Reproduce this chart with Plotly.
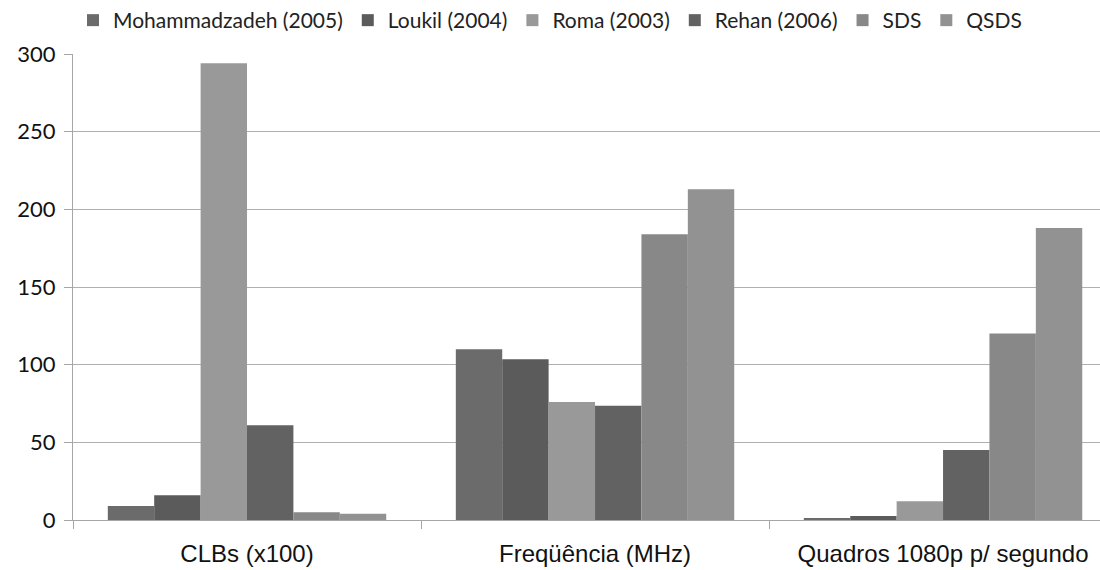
import plotly.graph_objects as go

categories = ["CLBs (x100)", "Freqüência (MHz)", "Quadros 1080p p/ segundo"]

series_names = ["Mohammadzadeh (2005)", "Loukil (2004)", "Roma (2003)",
                "Rehan (2006)", "SDS", "QSDS"]

mohammadzadeh = [9, 110, 1]
loukil = [16, 103.5, 2.5]
roma = [294, 76, 12]
rehan = [61, 73.5, 45]
sds = [5, 184, 120]
qsds = [4, 213, 188]

series_values = [mohammadzadeh, loukil, roma, rehan, sds, qsds]
series_colors = ["#6b6b6b", "#5b5b5b", "#999999", "#626262", "#888888", "#929292"]

y_ticks = [0, 50, 100, 150, 200, 250, 300]

fig = go.Figure()
for name, vals, color in zip(series_names, series_values, series_colors):
    fig.add_trace(go.Bar(
        name=name,
        x=categories,
        y=vals,
        marker=dict(color=color, line=dict(width=0)),
    ))

fig.update_layout(
    width=1100,
    height=570,
    barmode="group",
    bargap=0.2,
    bargroupgap=0,
    plot_bgcolor="white",
    paper_bgcolor="white",
    margin=dict(l=73, r=0, t=54, b=50, autoexpand=False),
    font=dict(family="Lato", color="#222222"),
    legend=dict(
        orientation="h",
        x=0.5, xanchor="center",
        xref="container",
        y=1.0, yanchor="top",
        yref="container",
        font=dict(family="Lato", size=21, color="#222222"),
        traceorder="normal",
        itemclick=False,
    ),
    showlegend=True,
)

fig.update_xaxes(
    type="category",
    range=[-0.5, 2.451],
    tickson="boundaries",
    ticks="outside",
    ticklen=8,
    tickcolor="#a6a6a6",
    tickwidth=1,
    showline=True,
    linecolor="#a6a6a6",
    linewidth=1,
    showgrid=False,
    tickfont=dict(family="Liberation Sans", size=24, color="#111111"),
    ticklabelstandoff=12,
    automargin=False,
    fixedrange=True,
)

fig.update_yaxes(
    range=[0, 300],
    tickvals=y_ticks,
    ticks="outside",
    ticklen=8,
    tickcolor="#a6a6a6",
    showline=True,
    linecolor="#a6a6a6",
    linewidth=1,
    showgrid=True,
    gridcolor="#b0b0b0",
    gridwidth=1,
    zeroline=False,
    tickfont=dict(family="Lato", size=22, color="#111111"),
    ticklabelstandoff=4,
    automargin=False,
    fixedrange=True,
)

fig.write_html("out.html", config={"displayModeBar": False})
